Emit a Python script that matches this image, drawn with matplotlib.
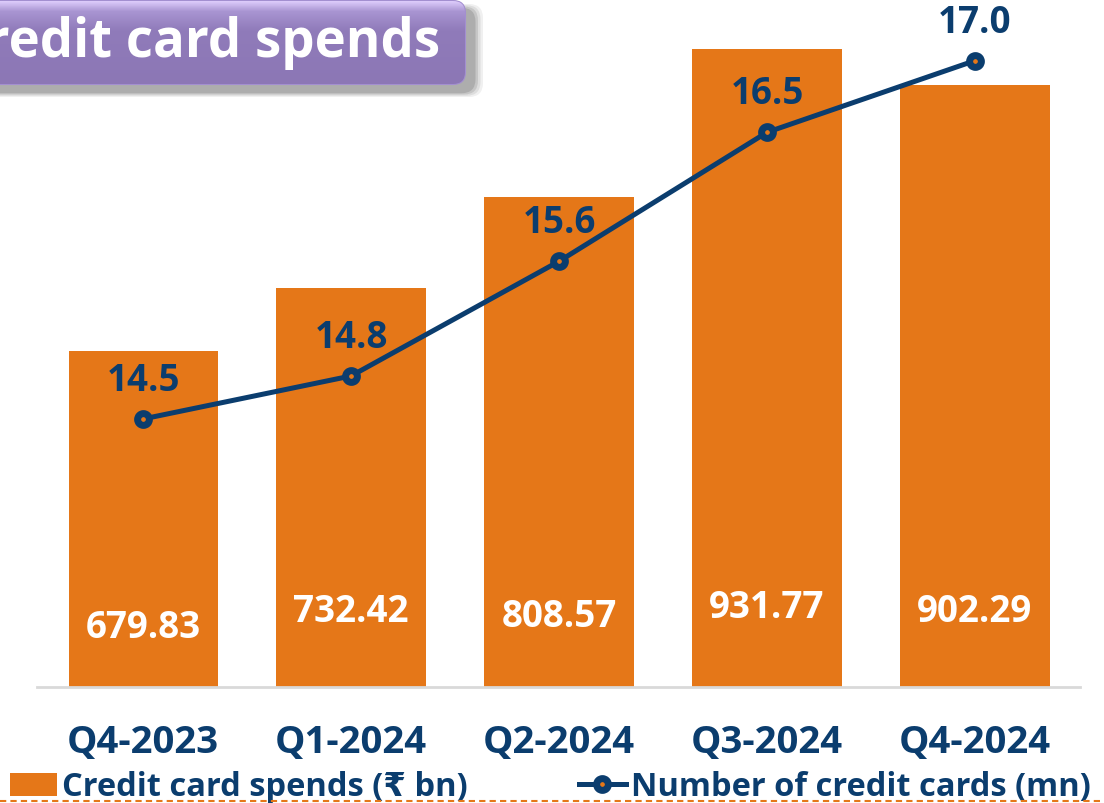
import matplotlib
matplotlib.use("Agg")
import matplotlib.pyplot as plt
import numpy as np
from matplotlib.patches import FancyBboxPatch
from matplotlib.colors import LinearSegmentedColormap

plt.rcParams['font.family'] = ['Open Sans', 'DejaVu Sans']

quarters = ["Q4-2023", "Q1-2024", "Q2-2024", "Q3-2024", "Q4-2024"]
spends = [679.83, 732.42, 808.57, 931.77, 902.29]
cards = [14.5, 14.8, 15.6, 16.5, 17.0]
spend_label_y = [450, 463, 459, 467, 463]

ORANGE = "#E57718"
NAVY = "#0B3D6E"
W, H = 1104, 804
fig = plt.figure(figsize=(W / 100, H / 100), dpi=100)

def fx(px):
    return px / W

def fy(py):
    return 1 - py / H

ax = fig.add_axes([fx(37), fy(688), fx(1080) - fx(37), 688 / H])
x = np.arange(len(quarters))
bars = ax.bar(x, spends, width=0.717, color=ORANGE, zorder=2,
              label="Credit card spends (₹ bn)")
ax.set_xlim(-0.51, 4.505)
ax.set_ylim(400, 973.8)
for s in ["top", "right", "left"]:
    ax.spines[s].set_visible(False)
ax.spines["bottom"].set_color("#D9D9D9")
ax.spines["bottom"].set_linewidth(2)
ax.set_yticks([])
ax.set_xticks(x)
ax.set_xticklabels(quarters, fontsize=27.5, fontweight="bold", color=NAVY)
ax.tick_params(axis="x", length=0, pad=26)
for xi, v, ly in zip(x, spends, spend_label_y):
    ax.text(xi, ly, f"{v:.2f}", ha="center", va="center", color="white",
            fontsize=26.5, fontweight="bold", zorder=3)

ax2 = ax.twinx()
ax2.set_ylim(12.63, 17.43)
ax2.axis("off")
line, = ax2.plot(x, cards, color=NAVY, lw=3.6, marker="o", ms=8.5,
                 markerfacecolor=ORANGE, markeredgecolor=NAVY, mew=5,
                 label="Number of credit cards (mn)", zorder=4)
for xi, v in zip(x, cards):
    ax2.annotate(f"{v:.1f}", (xi, v), xytext=(0, 28), textcoords="offset points",
                 ha="center", va="center", fontsize=26.5, fontweight="bold", color=NAVY)

# overlay for decoration
ov = fig.add_axes([0, 0, 1, 1], zorder=10)
ov.set_xlim(0, W)
ov.set_ylim(H, 0)
ov.axis("off")
ov.patch.set_alpha(0)

# dashed bottom line
ov.plot([0, W], [802, 802], color=ORANGE, lw=1.5, ls=(0, (3, 2)))

# title box shadow
for i, a in enumerate([0.06, 0.08, 0.10, 0.12]):
    g = 10 - i * 2.5
    ov.add_patch(FancyBboxPatch((-30 + 8, 2 + 8 - g / 2), 495 + g, 83 + g,
                                boxstyle="round,pad=0,rounding_size=14",
                                fc="black", ec="none", alpha=a))
box = FancyBboxPatch((-30, 2), 495, 83, boxstyle="round,pad=0,rounding_size=12",
                     fc="none", ec="#A38FD0", lw=1.5)
ov.add_patch(box)
grad = np.linspace(0, 1, 100)[:, None]
cmap = LinearSegmentedColormap.from_list("p", [(0, "#DCCBFA"), (0.12, "#A995D2"),
                                               (0.35, "#907BBA"), (1, "#8C77B5")])
im = ov.imshow(grad, extent=(-30, 465, 85, 2), cmap=cmap, aspect="auto", zorder=1)
im.set_clip_path(box)
ov.text(440, 43, "Credit card spends", ha="right", va="center", color="white",
        fontsize=38, fontweight="bold", zorder=3)

# legend
leg = fig.legend(handles=[bars, line], loc="center left",
                 bbox_to_anchor=(fx(10), fy(788)), ncol=2, frameon=False,
                 fontsize=23.5, handlelength=1.45, handletextpad=0.15,
                 columnspacing=3.4, borderaxespad=0, borderpad=0)
for t in leg.get_texts():
    t.set_color(NAVY)
    t.set_fontweight("bold")

fig.savefig("out.png", dpi=100)
